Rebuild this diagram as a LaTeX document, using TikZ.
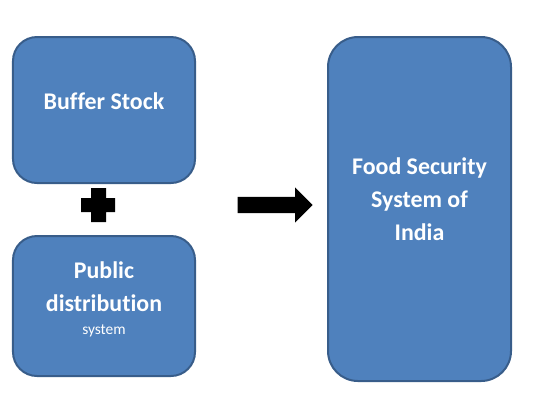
\documentclass[tikz,border=0pt]{standalone}
\usepackage{fontspec}
\setmainfont{Carlito}[Ligatures=NoCommon]
\usetikzlibrary{positioning,calc,shapes.arrows}
\definecolor{boxfill}{HTML}{4F81BD}
\definecolor{boxline}{HTML}{385D8A}

\begin{document}
\begin{tikzpicture}[
    x=1bp, y=-1bp,
    node distance=51bp,
    box/.style={rectangle, rounded corners=24bp, draw=boxline, line width=2bp, fill=boxfill, minimum width=182bp, inner sep=0pt},
    boxtext/.style={text=white, font=\bfseries\fontsize{24}{33}\selectfont, align=center}
]
\useasboundingbox (0,0) rectangle (539,408);

\node[box, minimum height=146bp] (buffer) at (104,110) {};
\node[box, minimum height=140bp, below=of buffer] (pds) {};
\node[box, minimum width=183bp, minimum height=344bp, rounded corners=30bp] (fss) at (419.5,209) {};

\node[boxtext] (buffertext) at ($(buffer.center)+(0,-9)$) {Buffer Stock};
\node[boxtext] (pdstext) at ($(pds.center)+(0,-7)$) {Public\\distribution\\[-10bp]{\mdseries\fontsize{15.5}{17}\selectfont system}};
\node[boxtext] (fsstext) at ($(fss.center)+(0,-10)$) {Food Security\\System of\\India};

% plus sign between the two boxes
\fill[black] (91,188) -- (106,188) -- (106,198) -- (115,198) -- (115,212) -- (106,212)
    -- (106,222) -- (91,222) -- (91,212) -- (81,212) -- (81,198) -- (91,198) -- cycle;

\node[single arrow, fill=black, inner sep=0pt, text height=16bp, text depth=0pt,
    minimum height=75bp, minimum width=35bp, single arrow head extend=9.5bp, anchor=tip] (arrow) at (313,205) {};
\end{tikzpicture}
\end{document}
